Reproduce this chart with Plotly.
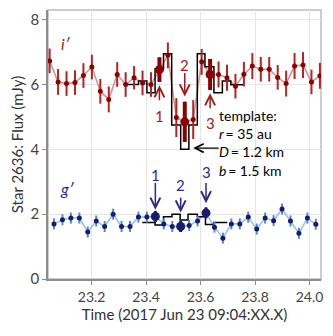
import plotly.graph_objects as go

# i' band (red)
i_time = [23.046, 23.077, 23.108, 23.139, 23.170, 23.201, 23.232, 23.263, 23.294, 23.325,
          23.356, 23.387, 23.418, 23.449, 23.480, 23.511, 23.542, 23.573, 23.604, 23.635,
          23.666, 23.697, 23.728, 23.759, 23.790, 23.821, 23.852, 23.883, 23.914, 23.945,
          23.976, 24.007, 24.038]
i_flux = [6.73, 6.08, 6.03, 6.06, 6.28, 6.54, 5.79, 5.54, 6.31, 6.00,
          6.21, 6.05, 6.00, 6.46, 6.90, 4.98, 4.85, 4.92, 6.70, 6.31,
          6.31, 6.21, 5.95, 6.32, 6.57, 6.47, 6.47, 6.22, 6.03, 6.57,
          6.60, 6.08, 6.27]
i_err = [0.38, 0.40, 0.38, 0.38, 0.38, 0.38, 0.38, 0.40, 0.38, 0.38,
         0.36, 0.38, 0.38, 0.38, 0.40, 0.60, 0.62, 0.60, 0.40, 0.48,
         0.40, 0.40, 0.38, 0.38, 0.40, 0.38, 0.38, 0.38, 0.40, 0.40,
         0.40, 0.38, 0.40]
i_marked = [13, 16, 19]

# g' band (blue)
g_time = [23.062, 23.093, 23.124, 23.155, 23.186, 23.217, 23.248, 23.279, 23.310, 23.341,
          23.372, 23.403, 23.434, 23.465, 23.496, 23.527, 23.558, 23.589, 23.620, 23.651,
          23.682, 23.713, 23.744, 23.775, 23.806, 23.837, 23.868, 23.899, 23.930, 23.961,
          23.992, 24.023]
g_flux = [1.70, 1.83, 1.88, 1.88, 1.45, 1.79, 1.62, 2.00, 1.62, 1.62,
          1.91, 1.91, 1.93, 1.70, 1.62, 1.62, 1.65, 1.79, 2.04, 1.60,
          1.26, 1.70, 1.70, 1.91, 1.54, 1.88, 1.80, 2.16, 1.79, 1.41,
          1.88, 1.69]
g_err = [0.17] * len(g_flux)
g_marked = [12, 15, 18]

# occultation template (step edges and levels)
i_tmpl_t = [23.321, 23.372, 23.403, 23.433, 23.464, 23.494, 23.527, 23.557, 23.588,
            23.616, 23.649, 23.680, 23.711, 23.757]
i_tmpl_f = [6.00, 6.11, 5.75, 6.49, 6.95, 4.75, 4.00, 4.75, 6.95, 6.55, 5.75, 6.11, 5.99]
g_tmpl_t = [23.386, 23.433, 23.464, 23.495, 23.525, 23.554, 23.588, 23.618, 23.649, 23.698]
g_tmpl_f = [1.74, 1.67, 1.92, 2.00, 1.82, 2.00, 1.92, 1.68, 1.74]

FONT = "Lato"
RED = "#8b0000"
RED_BAR = "#b32424"
NAVY = "#1a1a6e"
BLUE_BAR = "#4a8fd4"

fig = go.Figure()

# connecting lines
fig.add_trace(go.Scatter(x=i_time, y=i_flux, mode="lines",
                         line=dict(color="#d49494", width=1.6), hoverinfo="skip"))
fig.add_trace(go.Scatter(x=g_time, y=g_flux, mode="lines",
                         line=dict(color="#9dbfea", width=1.6), hoverinfo="skip"))

# templates
fig.add_trace(go.Scatter(x=i_tmpl_t, y=i_tmpl_f + [i_tmpl_f[-1]], mode="lines",
                         line=dict(color="black", width=1.5, shape="hv")))
fig.add_trace(go.Scatter(x=g_tmpl_t, y=g_tmpl_f + [g_tmpl_f[-1]], mode="lines",
                         line=dict(color="black", width=1.5, shape="hv")))

# points with error bars
fig.add_trace(go.Scatter(x=i_time, y=i_flux, mode="markers",
                         marker=dict(color=RED, size=5),
                         error_y=dict(type="data", array=i_err, color=RED_BAR,
                                      thickness=2, width=0)))
fig.add_trace(go.Scatter(x=g_time, y=g_flux, mode="markers",
                         marker=dict(color=NAVY, size=5),
                         error_y=dict(type="data", array=g_err, color=BLUE_BAR,
                                      thickness=2, width=0)))

# highlighted points
fig.add_trace(go.Scatter(x=[i_time[k] for k in i_marked], y=[i_flux[k] for k in i_marked],
                         mode="markers", marker=dict(color=RED, size=9),
                         error_y=dict(type="data", array=[i_err[k] for k in i_marked],
                                      color=RED, thickness=4, width=0)))
fig.add_trace(go.Scatter(x=[g_time[k] for k in g_marked], y=[g_flux[k] for k in g_marked],
                         mode="markers", marker=dict(color=NAVY, size=9),
                         error_y=dict(type="data", array=[g_err[k] for k in g_marked],
                                      color=NAVY, thickness=3, width=0)))

ann = []
# i' arrows: (tip, tail, label)
i_arrows = [(5.98, 5.47, 5.02), (5.63, 6.40, 6.60), (5.73, 5.22, 4.81)]
for n, (k, (tip, tail, lab)) in enumerate(zip(i_marked, i_arrows), start=1):
    ann.append(dict(x=i_time[k], y=tip, ax=i_time[k], ay=tail, axref="x", ayref="y",
                    xref="x", yref="y", showarrow=True, arrowhead=5, arrowsize=1.3,
                    arrowwidth=1.5, arrowcolor="#a01c1c", text=""))
    ann.append(dict(x=i_time[k], y=lab, text=str(n), showarrow=False,
                    font=dict(size=15, color="#a01c1c", family=FONT)))
g_arrows = [(2.14, 3.01, 3.21), (2.05, 2.55, 2.91), (2.34, 3.01, 3.29)]
for n, (k, (tip, tail, lab)) in enumerate(zip(g_marked, g_arrows), start=1):
    ann.append(dict(x=g_time[k], y=tip, ax=g_time[k], ay=tail, axref="x", ayref="y",
                    xref="x", yref="y", showarrow=True, arrowhead=5, arrowsize=1.3,
                    arrowwidth=1.5, arrowcolor="#2a2a8a", text=""))
    ann.append(dict(x=g_time[k], y=lab, text=str(n), showarrow=False,
                    font=dict(size=15, color="#2a2a8a", family=FONT)))

# band labels
ann.append(dict(x=23.105, y=7.28, text="<i>i′</i>", showarrow=False,
                font=dict(size=16, color="#a01c1c", family=FONT)))
ann.append(dict(x=23.112, y=2.80, text="<i>g′</i>", showarrow=False,
                font=dict(size=16, color="#2a2a8a", family=FONT)))

# template legend
ann.append(dict(x=23.66, y=4.21, xanchor="left", yanchor="middle", align="left",
                text="template:<br><i>r</i>\u2009= 35 au<br><i>D</i>\u2009= 1.2 km<br><i>b</i>\u2009= 1.5 km",
                showarrow=False, font=dict(size=14, color="black", family=FONT)))
ann.append(dict(x=23.573, y=4.04, ax=23.672, ay=4.04, axref="x", ayref="y",
                xref="x", yref="y", showarrow=True, arrowhead=5, arrowsize=1.3,
                arrowwidth=1.3, arrowcolor="black", text=""))

# page body has an 8px margin, so the figure is shrunk by that much
fig.update_layout(
    width=325, height=328,
    margin=dict(l=40, r=12, t=2, b=57, autoexpand=False),
    plot_bgcolor="white", paper_bgcolor="white",
    showlegend=False,
    font=dict(family=FONT, size=13, color="#444"),
    annotations=ann,
    shapes=[dict(type="rect", xref="paper", yref="paper", x0=0, y0=0, x1=1, y1=1,
                 line=dict(color="#bdbdbd", width=1.5), layer="below")],
)
fig.update_xaxes(
    range=[23.04, 24.042],
    automargin=False,
    tickvals=[23.2, 23.4, 23.6, 23.8, 24.0],
    ticktext=["23.2", "23.4", "23.6", "23.8", "24.0"],
    showgrid=True, gridcolor="#e6e6e6", gridwidth=1,
    zeroline=False,
    showline=True, linecolor="#8c8c8c", linewidth=1.5,
    ticks="outside", ticklen=4, tickcolor="#8c8c8c",
    tickfont=dict(size=14, color="#444"),
    title=dict(text="Time (2017 Jun 23 09:04:XX.X)", font=dict(size=15, color="#333"),
               standoff=6),
)
fig.update_yaxes(
    range=[0, 8.3],
    automargin=False,
    tickvals=[0, 2, 4, 6, 8],
    showgrid=True, gridcolor="#e6e6e6", gridwidth=1,
    zeroline=False,
    showline=True, linecolor="#8c8c8c", linewidth=1.5,
    ticks="outside", ticklen=4, tickcolor="#8c8c8c",
    tickfont=dict(size=15, color="#444"),
    title=dict(text="Star 2636: Flux (mJy)", font=dict(size=15, color="#333"),
               standoff=6),
)

fig.write_html("out.html")
